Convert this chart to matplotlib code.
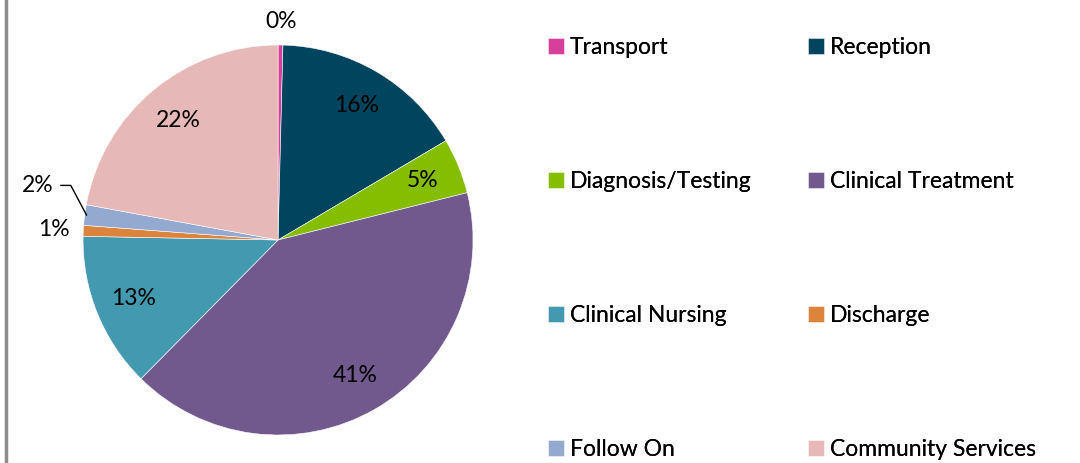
import numpy as np
import matplotlib
matplotlib.use('Agg')
import matplotlib.pyplot as plt
from matplotlib.lines import Line2D

plt.rcParams['font.family'] = ['Lato', 'DejaVu Sans']

categories = ['Transport', 'Reception', 'Diagnosis/Testing', 'Clinical Treatment',
              'Clinical Nursing', 'Discharge', 'Follow On', 'Community Services']
shares = [0.4, 16.1, 4.6, 41.3, 12.9, 0.9, 1.7, 22.1]
colors = ['#D6409A', '#00445E', '#85BD00', '#71598E',
          '#4299B0', '#DC843C', '#94A9CF', '#E6B8B7']

fig = plt.figure(figsize=(10.8, 4.63), dpi=100)
ax = fig.add_axes([0.0769, 0.0605, 0.3611, 0.8423])

wedges, _ = ax.pie(shares, colors=colors, startangle=90, counterclock=False,
                   radius=1.0, wedgeprops=dict(edgecolor='white', linewidth=0.4))
ax.set_aspect('equal')
ax.set_xlim(-1, 1)
ax.set_ylim(-1, 1)

total = sum(shares)
fs = 16.5
for w, v in zip(wedges, shares):
    mid = np.deg2rad((w.theta1 + w.theta2) / 2)
    lab = '%d%%' % round(v / total * 100)
    if v >= 3:
        ax.text(0.8 * np.cos(mid), 0.8 * np.sin(mid), lab,
                ha='center', va='center', fontsize=fs)
    elif v < 0.5:
        ax.text(1.12 * np.cos(mid), 1.12 * np.sin(mid), lab,
                ha='center', va='center', fontsize=fs)
    elif v < 1.2:
        ax.text(1.15 * np.cos(mid), 1.15 * np.sin(mid), lab,
                ha='center', va='center', fontsize=fs)
    else:
        ax.annotate(lab, xy=(0.99 * np.cos(mid), 0.99 * np.sin(mid)),
                    xytext=(-1.15, 0.28), ha='right', va='center', fontsize=fs,
                    arrowprops=dict(arrowstyle='-', color='black', lw=1,
                                    shrinkA=3, shrinkB=0,
                                    connectionstyle='angle,angleA=0,angleB=-62,rad=0'))

# legend: two columns, each its own legend so the x positions match
for col, idx in enumerate([[0, 2, 4, 6], [1, 3, 5, 7]]):
    leg = fig.legend([wedges[i] for i in idx], [categories[i] for i in idx],
                     loc='upper left', bbox_to_anchor=(0.497 + col * 0.2407, 0.944),
                     frameon=False, fontsize=fs, borderpad=0,
                     handlelength=0.7, handleheight=0.7,
                     handletextpad=0.25, labelspacing=4.92)
    fig.add_artist(leg)

fig.add_artist(Line2D([0.0055, 0.0055], [0, 1], color='#8C8C8C', lw=2.5,
                      transform=fig.transFigure))

fig.savefig('out.png', dpi=100, facecolor='white')
